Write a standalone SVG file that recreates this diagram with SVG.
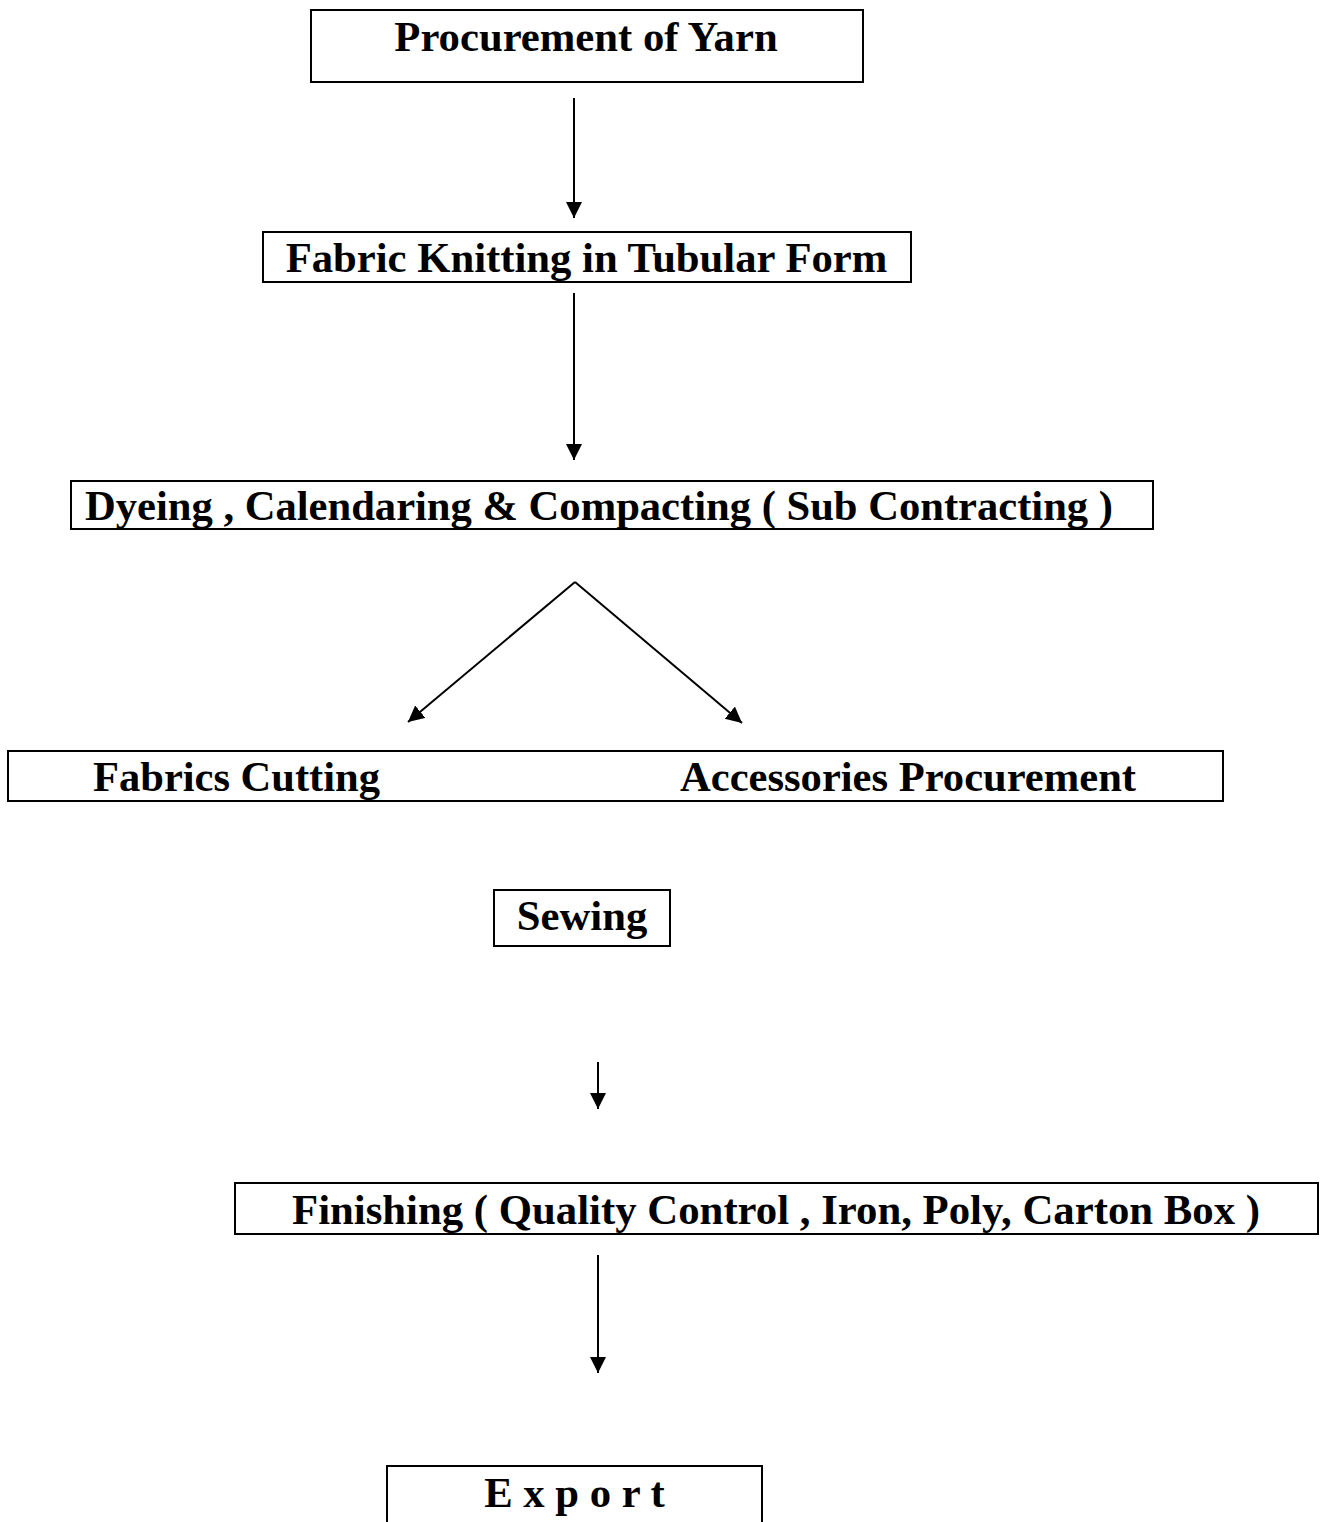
<svg xmlns="http://www.w3.org/2000/svg" width="1320" height="1522" viewBox="0 0 1320 1522">
<style>
.box{fill:#fff;stroke:#000;stroke-width:2}
.lbl{font-family:"Liberation Serif","Times New Roman",serif;font-weight:bold;font-size:42.7px;fill:#000}
.c{text-anchor:middle}
.conn{stroke:#000;stroke-width:2;fill:none}
</style>
<defs>
<marker id="ah" markerWidth="9" markerHeight="9" refX="8" refY="4" orient="auto" markerUnits="strokeWidth"><path d="M0,0 L8,4 L0,8 Z" fill="#000"/></marker>
</defs>
<rect width="1320" height="1522" fill="#fff"/>
<g id="n1"><rect class="box" x="311" y="10" width="552" height="72"/><text class="lbl c" x="586" y="51">Procurement of Yarn</text></g>
<g id="n2"><rect class="box" x="263" y="232" width="648" height="50"/><text class="lbl c" x="586.5" y="272">Fabric Knitting in Tubular Form</text></g>
<g id="n3"><rect class="box" x="71" y="481" width="1082" height="48"/><text class="lbl" x="85" y="520" textLength="1028" lengthAdjust="spacingAndGlyphs">Dyeing , Calendaring &amp; Compacting ( Sub Contracting )</text></g>
<g id="n4"><rect class="box" x="8" y="751" width="1215" height="50"/><text class="lbl" x="93" y="791" textLength="287" lengthAdjust="spacingAndGlyphs">Fabrics Cutting</text><text class="lbl" x="680" y="791" textLength="456" lengthAdjust="spacingAndGlyphs">Accessories Procurement</text></g>
<g id="n5"><rect class="box" x="494" y="890" width="176" height="56"/><text class="lbl c" x="582" y="930">Sewing</text></g>
<g id="n6"><rect class="box" x="235" y="1183" width="1083" height="51"/><text class="lbl" x="292" y="1224" textLength="968" lengthAdjust="spacingAndGlyphs">Finishing ( Quality Control , Iron, Poly, Carton Box )</text></g>
<g id="n7"><rect class="box" x="387" y="1466" width="375" height="70"/><text class="lbl c" x="574.5" y="1507">E x p o r t</text></g>
<g id="connectors">
<line class="conn" x1="574" y1="98" x2="574" y2="218" marker-end="url(#ah)"/>
<line class="conn" x1="574" y1="293" x2="574" y2="460" marker-end="url(#ah)"/>
<line class="conn" x1="575" y1="582" x2="408" y2="722" marker-end="url(#ah)"/>
<line class="conn" x1="575" y1="582" x2="742" y2="723" marker-end="url(#ah)"/>
<line class="conn" x1="598" y1="1062" x2="598" y2="1109" marker-end="url(#ah)"/>
<line class="conn" x1="598" y1="1255" x2="598" y2="1373" marker-end="url(#ah)"/>
</g>
</svg>
